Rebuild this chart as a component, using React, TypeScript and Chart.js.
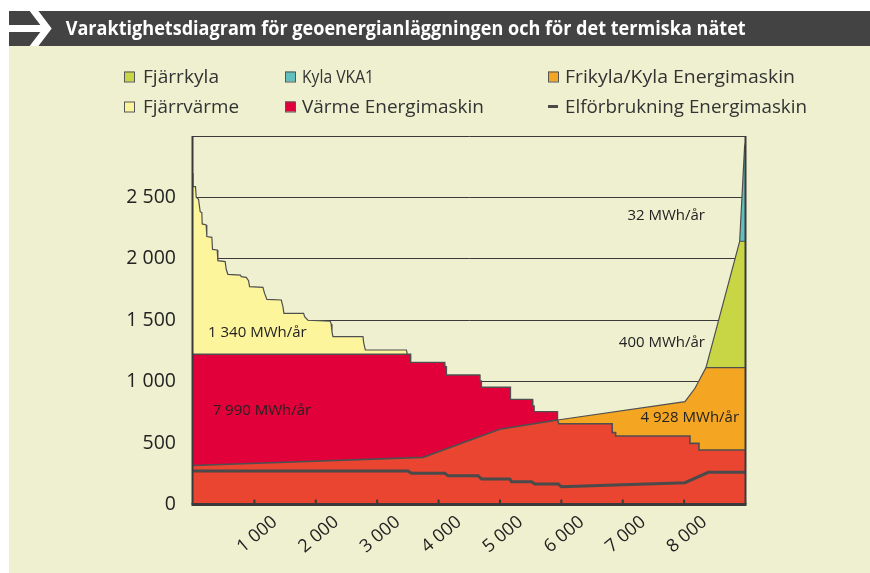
import React, { useEffect, useRef } from 'react';
import { Chart, registerables } from 'chart.js';

Chart.register(...registerables);

// ---------------- data ----------------
const TITLE = 'Varaktighetsdiagram för geoenergianläggningen och för det termiska nätet';

const X_MAX = 9000;
const Y_MAX = 3000;
const X_TICKS = [1000, 2000, 3000, 4000, 5000, 6000, 7000, 8000];
const Y_TICKS = [0, 500, 1000, 1500, 2000, 2500, 3000];
const Y_LABEL_MAX = 2500;

// hours, kW (cumulative top boundary of each area)
const kylaVka1: [number, number][] = [[8905, 2143], [8985, 2913], [9000, 2945]];
const fjarrkyla: [number, number][] = [[8356, 1114], [8905, 2143], [9000, 2143]];
const frikyla: [number, number][] = [[5938, 688], [8014, 837], [8177, 946], [8356, 1114], [9000, 1114]];
const fjarrvarme: [number, number][] = [
  [0, 2696], [0, 2588], [41, 2588], [52, 2501], [90, 2485], [117, 2384], [144, 2376], [150, 2284],
  [215, 2276], [225, 2181], [307, 2175], [318, 2077], [394, 2072], [405, 1985], [524, 1977],
  [541, 1915], [568, 1874], [774, 1868], [785, 1855], [867, 1849], [905, 1822], [921, 1773],
  [1139, 1768], [1166, 1719], [1204, 1670], [1438, 1665], [1465, 1611], [1481, 1556], [1802, 1556],
  [1818, 1529], [1872, 1500], [2236, 1492], [2250, 1470], [2264, 1407], [2280, 1366], [2769, 1366],
  [2780, 1318], [2807, 1258], [3476, 1258], [3492, 1223],
];
const varmeEnergimaskin: [number, number][] = [
  [0, 1223], [3546, 1223], [3546, 1157], [4101, 1157], [4105, 1122], [4128, 1122], [4128, 1054],
  [4671, 1054], [4675, 1005], [4698, 1005], [4698, 954], [5171, 954], [5171, 856], [5530, 856],
  [5535, 802], [5557, 802], [5557, 756], [5938, 756], [5938, 688],
];
const basEnergimaskin: [number, number][] = [
  [0, 317], [3747, 384], [4997, 612], [5938, 688], [5960, 657], [6829, 657], [6829, 585],
  [6884, 585], [6884, 558], [8095, 558], [8095, 498], [8242, 498], [8242, 444], [9000, 444],
];
const elforbrukning: [number, number][] = [
  [0, 273], [3503, 273], [3557, 254], [4101, 254], [4155, 235], [4644, 235], [4699, 208],
  [5160, 208], [5188, 186], [5514, 186], [5568, 167], [5948, 167], [6003, 145], [8014, 178],
  [8394, 262], [9000, 262],
];

const ANNOT_TEXT = ['1 340 MWh/år', '7 990 MWh/år', '32 MWh/år', '400 MWh/år', '4 928 MWh/år'];
const ANNOT_X = [245, 320, 8340, 8340, 8895];
const ANNOT_Y = [1395, 767, 2349, 1315, 704];
const ANNOT_ALIGN: CanvasTextAlign[] = ['left', 'left', 'right', 'right', 'right'];

const LEGEND_ORDER = [
  'Fjärrkyla', 'Kyla VKA1', 'Frikyla/Kyla Energimaskin',
  'Fjärrvärme', 'Värme Energimaskin', 'Elförbrukning Energimaskin',
];

// ---------------- style ----------------
const FONT = '"Open Sans", "DejaVu Sans", sans-serif';
const PANEL = '#EEF0CF';
const BAR = '#434343';
const GREEN = '#C8D646';
const TEAL = '#5FC0BF';
const ORANGE = '#F4A622';
const YELLOW = '#FDF59C';
const CRIMSON = '#E2003A';
const REDORANGE = '#E94530';
const EDGE = '#4f4f4f';
const AXIS = '#3a3a3a';
const TEXT = '#222222';

const LEG_COL_SQ = [124, 285, 548];
const LEG_COL_TX = [143, 302, 565];
const LEG_ROW_BASE = [82.5, 112.5];
const LEG_TEXT_W = [76, 72, 230, 96, 182, 242];

const fmt = (v: number) =>
  v >= 1000 ? `${Math.floor(v / 1000)} ${String(v % 1000).padStart(3, '0')}` : String(v);

const pts = (a: [number, number][]) => a.map(([x, y]) => ({ x, y }));

function fitText(ctx: CanvasRenderingContext2D, text: string, x: number, y: number, w: number, font: string, color: string) {
  ctx.save();
  ctx.font = font;
  ctx.fillStyle = color;
  ctx.textAlign = 'left';
  ctx.textBaseline = 'alphabetic';
  const m = ctx.measureText(text).width;
  ctx.translate(x, y);
  ctx.scale(w / m, 1);
  ctx.fillText(text, 0, 0);
  ctx.restore();
}

const decor = {
  id: 'decor',
  beforeDraw(chart: any) {
    const ctx: CanvasRenderingContext2D = chart.ctx;
    const W = chart.width;
    const H = chart.height;
    ctx.save();
    ctx.fillStyle = '#ffffff';
    ctx.fillRect(0, 0, W, H);
    ctx.fillStyle = PANEL;
    ctx.fillRect(9, 46, W - 9, H - 46);
    ctx.fillStyle = BAR;
    ctx.fillRect(9, 11, W - 9, 35);
    // arrow
    ctx.save();
    ctx.beginPath();
    ctx.rect(9, 11, 60, 35);
    ctx.clip();
    ctx.strokeStyle = '#ffffff';
    ctx.lineWidth = 7;
    ctx.lineJoin = 'miter';
    ctx.beginPath();
    ctx.moveTo(9, 28.5);
    ctx.lineTo(44, 28.5);
    ctx.stroke();
    ctx.beginPath();
    ctx.moveTo(30.3, 6);
    ctx.lineTo(47.3, 28.5);
    ctx.lineTo(30.3, 51);
    ctx.stroke();
    ctx.restore();
    fitText(ctx, TITLE, 65.7, 35.3, 680, `bold 19px ${FONT}`, '#ffffff');

    // legend
    const dsets = chart.data.datasets;
    LEGEND_ORDER.forEach((label, i) => {
      const ds = dsets.find((d: any) => d.label === label);
      if (!ds) return;
      const col = i % 3;
      const row = Math.floor(i / 3);
      const base = LEG_ROW_BASE[row];
      const sx = LEG_COL_SQ[col];
      if (ds.fill === false) {
        ctx.fillStyle = ds.borderColor;
        ctx.fillRect(sx, base - 7.5, 10, 3);
      } else {
        ctx.fillStyle = ds.backgroundColor;
        ctx.fillRect(sx, base - 11, 10, 10);
        ctx.strokeStyle = '#555555';
        ctx.lineWidth = 1;
        ctx.strokeRect(sx + 0.5, base - 10.5, 10, 10);
      }
      fitText(ctx, label, LEG_COL_TX[col], base, LEG_TEXT_W[i], `18px ${FONT}`, '#333333');
    });
    ctx.restore();
  },
  afterDatasetsDraw(chart: any) {
    const ctx: CanvasRenderingContext2D = chart.ctx;
    const { left, right, top, bottom } = chart.chartArea;
    const xs = chart.scales.x;
    const ys = chart.scales.y;
    ctx.save();
    ctx.strokeStyle = AXIS;
    ctx.lineCap = 'butt';
    ctx.lineWidth = 2;
    ctx.beginPath();
    ctx.moveTo(left - 0.5, top);
    ctx.lineTo(left - 0.5, bottom);
    ctx.moveTo(right, top);
    ctx.lineTo(right, bottom);
    ctx.stroke();
    ctx.lineWidth = 3;
    ctx.beginPath();
    ctx.moveTo(left - 1.5, bottom);
    ctx.lineTo(right + 1, bottom);
    ctx.stroke();
    // inward tick marks
    ctx.lineWidth = 2;
    ctx.beginPath();
    X_TICKS.forEach((v) => {
      const px = xs.getPixelForValue(v);
      ctx.moveTo(px, bottom);
      ctx.lineTo(px, bottom - 5);
    });
    ctx.stroke();
    // rotated x labels
    ctx.fillStyle = TEXT;
    ctx.font = `18px ${FONT}`;
    ctx.textAlign = 'center';
    ctx.textBaseline = 'middle';
    X_TICKS.forEach((v) => {
      const px = xs.getPixelForValue(v) + 3;
      ctx.save();
      ctx.translate(px, bottom + 30);
      ctx.rotate((-40 * Math.PI) / 180);
      ctx.fillText(fmt(v), 0, 0);
      ctx.restore();
    });
    // annotations
    ctx.font = `15px ${FONT}`;
    ctx.textBaseline = 'middle';
    ANNOT_TEXT.forEach((t, i) => {
      ctx.textAlign = ANNOT_ALIGN[i];
      ctx.fillStyle = TEXT;
      ctx.fillText(t, xs.getPixelForValue(ANNOT_X[i]), ys.getPixelForValue(ANNOT_Y[i]));
    });
    ctx.restore();
  },
};

const area = (label: string, data: [number, number][], color: string, order: number, bw = 1.2) => ({
  label,
  data: pts(data),
  backgroundColor: color,
  borderColor: EDGE,
  borderWidth: bw,
  fill: 'origin',
  order,
  pointRadius: 0,
  pointHoverRadius: 0,
  tension: 0,
  borderJoinStyle: 'miter',
});

export default function App() {
  const ref = useRef<HTMLCanvasElement>(null);
  useEffect(() => {
    document.body.style.margin = '0';
    const chart = new Chart(ref.current as HTMLCanvasElement, {
      type: 'line',
      data: {
        datasets: [
          {
            label: 'Elförbrukning Energimaskin',
            data: pts(elforbrukning),
            borderColor: '#4a4a4a',
            backgroundColor: '#4a4a4a',
            borderWidth: 3,
            fill: false,
            order: 1,
            pointRadius: 0,
            pointHoverRadius: 0,
            tension: 0,
          },
          area('', basEnergimaskin, REDORANGE, 2, 1.6),
          area('Värme Energimaskin', varmeEnergimaskin, CRIMSON, 3, 1.4),
          area('Fjärrvärme', fjarrvarme, YELLOW, 4, 1.2),
          area('Frikyla/Kyla Energimaskin', frikyla, ORANGE, 5, 1.2),
          area('Fjärrkyla', fjarrkyla, GREEN, 6, 1.2),
          area('Kyla VKA1', kylaVka1, TEAL, 7, 1.2),
        ] as any,
      },
      options: {
        animation: false,
        responsive: false,
        devicePixelRatio: 1,
        events: [],
        layout: { padding: { left: 0, top: 136, right: 124.5, bottom: 0 } },
        plugins: {
          legend: { display: false },
          tooltip: { enabled: false },
          title: { display: false },
        },
        scales: {
          x: {
            type: 'linear',
            min: 0,
            max: X_MAX,
            ticks: { display: false },
            grid: { display: false },
            border: { display: false },
            afterFit: (s: any) => {
              s.height = 68.5;
            },
          },
          y: {
            type: 'linear',
            min: 0,
            max: Y_MAX,
            afterBuildTicks: (s: any) => {
              s.ticks = Y_TICKS.map((value) => ({ value }));
            },
            ticks: {
              callback: (v: any) => (Number(v) > Y_LABEL_MAX ? '' : fmt(Number(v))),
              color: TEXT,
              font: { family: FONT, size: 19.5 },
              padding: 17,
            },
            grid: { color: AXIS, lineWidth: 1, drawTicks: false },
            border: { display: false },
            afterFit: (s: any) => {
              s.width = 193;
            },
          },
        },
      } as any,
      plugins: [decor],
    });
    return () => chart.destroy();
  }, []);
  return (
    <canvas
      ref={ref}
      width={870}
      height={573}
      style={{ display: 'block', width: 870, height: 573 }}
    />
  );
}
